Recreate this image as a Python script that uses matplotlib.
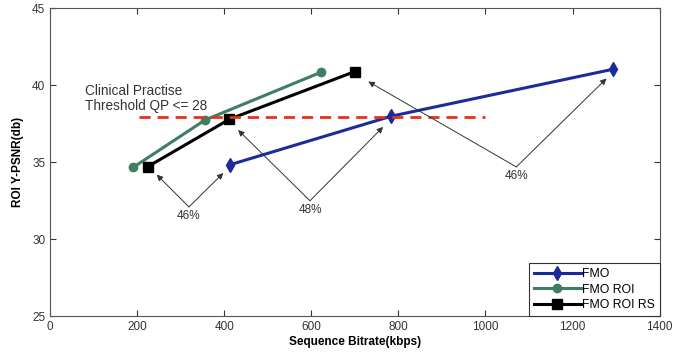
import matplotlib
matplotlib.use("Agg")
import matplotlib.pyplot as plt

plt.rcParams['font.family'] = ['Liberation Sans', 'DejaVu Sans']

fmo_x = [413, 784, 1293]
fmo_y = [34.84, 38.0, 41.05]
roi_x = [191, 356, 622]
roi_y = [34.67, 37.75, 40.85]
rs_x = [224, 412, 700]
rs_y = [34.71, 37.8, 40.9]
thresh_x = [205, 1000]
thresh_y = 37.92

ann_labels = ["46%", "48%", "46%"]
ann_vertex = [(319, 32.1), (597, 32.5), (1071, 34.7)]
ann_targets = [[(245, 34.2), (398, 34.3)],
               [(432, 37.1), (765, 37.3)],
               [(731, 40.25), (1278, 40.45)]]

fig = plt.figure(figsize=(6.88, 3.54), dpi=100)
ax = fig.add_axes([0.0727, 0.107, 0.886, 0.869])

ax.plot(fmo_x, fmo_y, color='#1c2b99', lw=2.2, marker='d', ms=7.5, label='FMO')
ax.plot(roi_x, roi_y, color='#3d7f60', lw=2.2, marker='o', ms=6, label='FMO ROI')
ax.plot(rs_x, rs_y, color='black', lw=2.2, marker='s', ms=7, label='FMO ROI RS')
ax.plot(thresh_x, [thresh_y, thresh_y], color='#e3341a', lw=2, ls=(0, (4, 2.5)))

ax.text(80, 38.2, "Clinical Practise\nThreshold QP <= 28", fontsize=9.8, color='#333333',
        va='bottom', ha='left', linespacing=1.12)

for lab, (vx, vy), tg in zip(ann_labels, ann_vertex, ann_targets):
    for (tx, ty) in tg:
        ax.annotate("", xy=(tx, ty), xytext=(vx, vy),
                    arrowprops=dict(arrowstyle='-|>', color='#333333', lw=0.7,
                                    mutation_scale=9, shrinkA=0, shrinkB=0))
    ax.text(vx, vy - 0.2, lab, fontsize=8.5, ha='center', va='top', color='#333333')

ax.set_xlim(0, 1400)
ax.set_ylim(25, 45)
ax.set_xticks(range(0, 1401, 200))
ax.set_yticks(range(25, 46, 5))
ax.tick_params(direction='in', top=True, right=True, labelsize=8.5, length=4, colors='#333333')
for s in ax.spines.values():
    s.set_color('#555555')
ax.set_xlabel("Sequence Bitrate(kbps)", fontsize=8.5, fontweight='bold', labelpad=2)
ax.set_ylabel("ROI Y-PSNR(db)", fontsize=8.5, fontweight='bold', labelpad=6)

leg = ax.legend(loc='lower right', bbox_to_anchor=(1, 0), borderaxespad=0, fontsize=8.8,
                fancybox=False, edgecolor='#333333', framealpha=1, handlelength=3.8,
                handletextpad=0.1, labelspacing=0.3)
leg.get_frame().set_linewidth(0.8)

fig.savefig("out.png", dpi=100)
